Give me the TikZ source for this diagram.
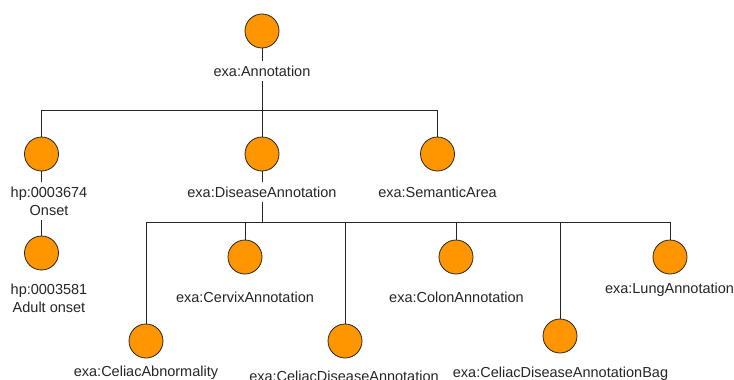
\documentclass[tikz,border=0pt]{standalone}
\usepackage{fontspec}
\setmainfont{Liberation Sans}
\usetikzlibrary{backgrounds}
\definecolor{orangefill}{RGB}{255,150,0}
\tikzset{
 dot/.style={circle,draw=black!85,line width=0.8pt,fill=orangefill,minimum size=34pt,inner sep=0pt},
 lbl/.style={fill=white,text=black!85,font=\fontsize{14.5}{18}\selectfont,align=center,inner xsep=2pt,inner ysep=5pt},
 conn/.style={draw=black!85,line width=0.8pt}
}
\begin{document}
\begin{tikzpicture}[x=1pt,y=-1pt]
\useasboundingbox (0,0) rectangle (734,380);
% nodes
\node[dot] (root) at (262,31) {};
\node[lbl] (rootl) at (262,71) {exa:Annotation};
\node[dot] (hp) at (41.5,154) {};
\node[lbl] (hpl) at (49,201) {hp:0003674\\Onset};
\node[dot] (hp2) at (41.5,253) {};
\node[lbl] (hp2l) at (49,298) {hp:0003581\\Adult onset};
\node[dot] (dis) at (262,154) {};
\node[lbl] (disl) at (262,192) {exa:DiseaseAnnotation};
\node[dot] (sem) at (437.5,154) {};
\node[lbl] (seml) at (437.5,192) {exa:SemanticArea};
\node[dot] (cel) at (146,341) {};
\node[lbl] (cell) at (146,373) {exa:CeliacAbnormality};
\node[dot] (cer) at (245,257) {};
\node[lbl] (cerl) at (245,297) {exa:CervixAnnotation};
\node[dot] (cda) at (345,341) {};
\node[lbl] (cdal) at (344,376) {exa:CeliacDiseaseAnnotation};
\node[dot] (col) at (456,257) {};
\node[lbl] (coll) at (456.5,297) {exa:ColonAnnotation};
\node[dot] (bag) at (560,336) {};
\node[lbl] (bagl) at (560.5,374) {exa:CeliacDiseaseAnnotationBag};
\node[dot] (lung) at (670,257) {};
\node[lbl] (lungl) at (669.5,290) {exa:LungAnnotation};
\coordinate (b1) at (262,110);
\coordinate (b2) at (262,222);
% connectors
\begin{pgfonlayer}{background}
\draw[conn] (root) -- (b1);
\draw[conn] (b1) -| (hp);
\draw[conn] (b1) -- (dis);
\draw[conn] (b1) -| (sem);
\draw[conn] (hp) -- (hp2);
\draw[conn] (dis) -- (b2);
\draw[conn] (b2) -| (cel);
\draw[conn] (b2) -| (cer);
\draw[conn] (b2) -| (cda);
\draw[conn] (b2) -| (col);
\draw[conn] (b2) -| (bag);
\draw[conn] (b2) -| (lung);
\end{pgfonlayer}
\end{tikzpicture}
\end{document}
